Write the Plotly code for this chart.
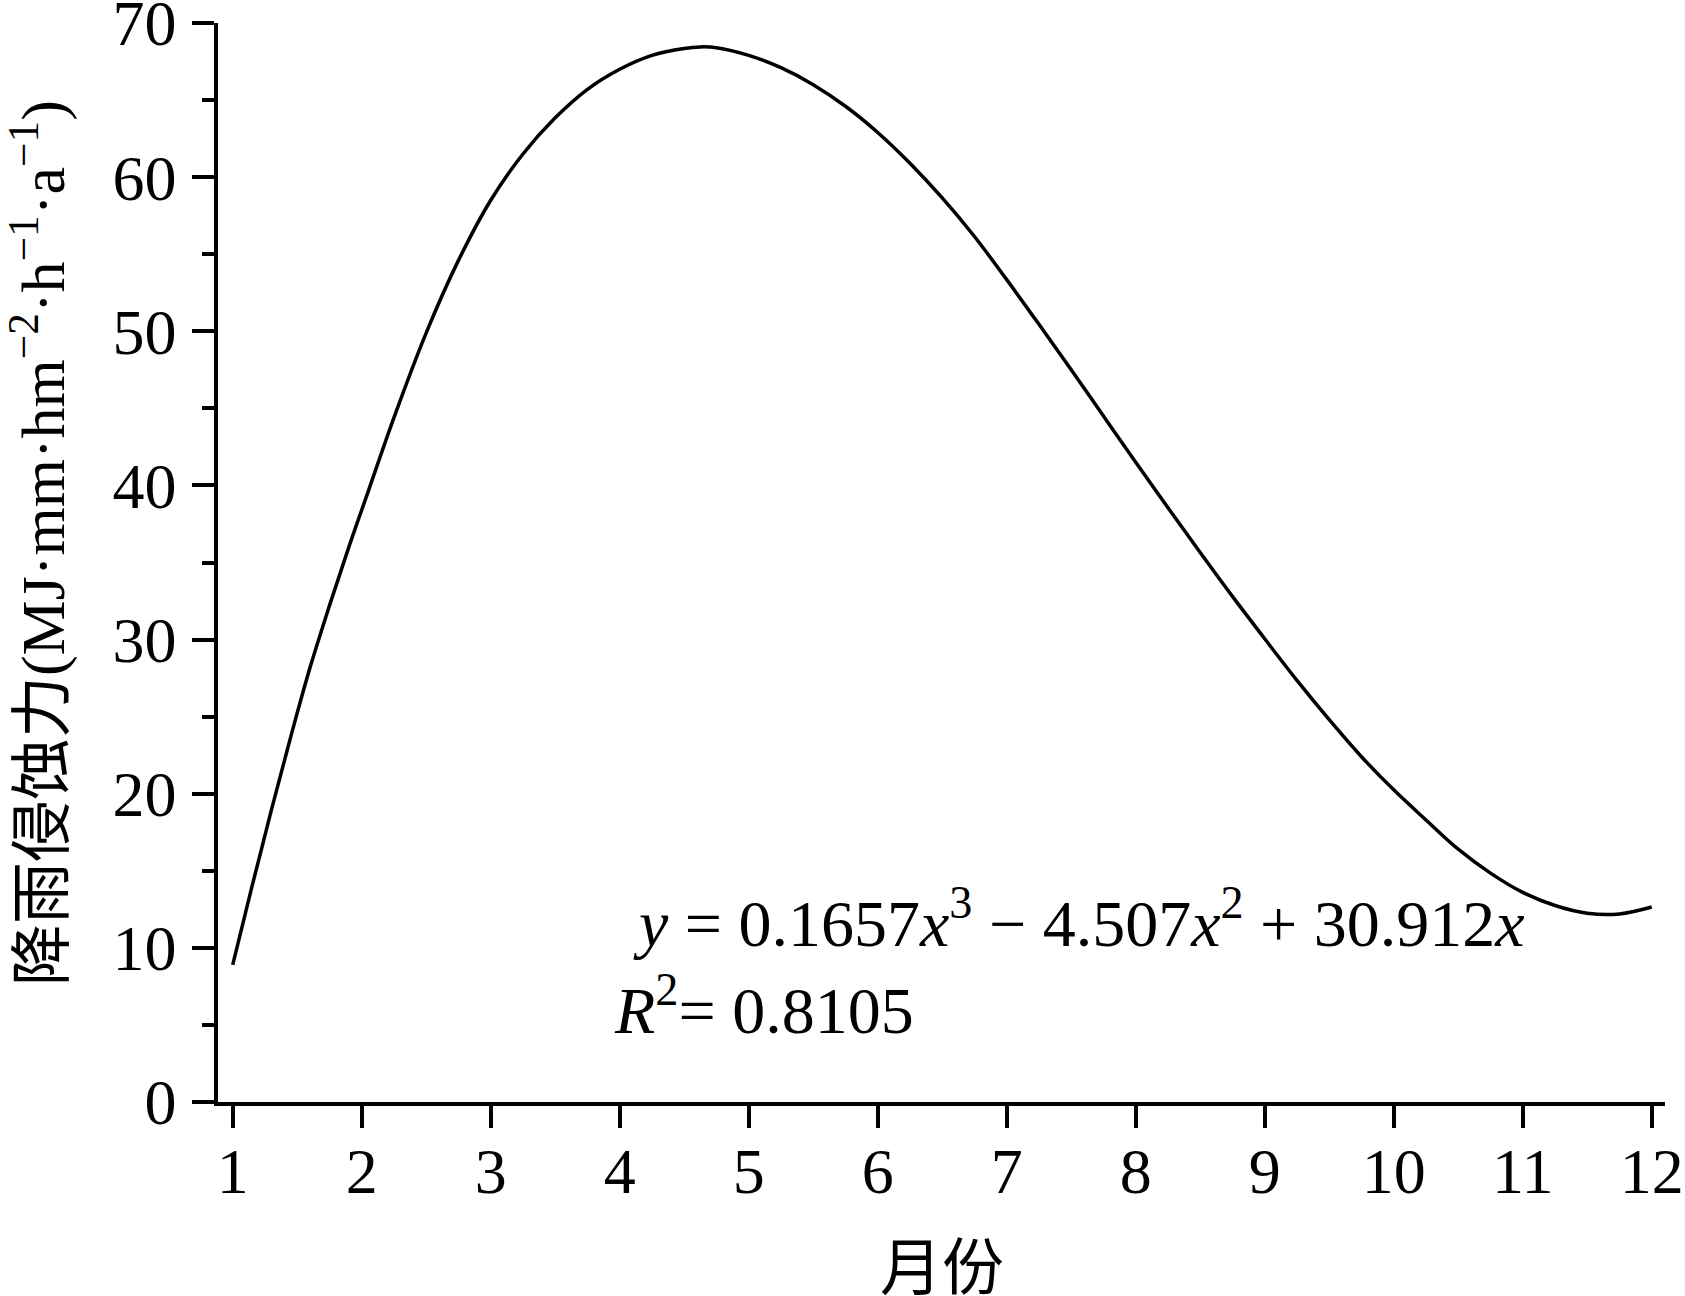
import plotly.graph_objects as go

# Month values (x) and rainfall erosivity (y)
month = [1.0, 1.15, 1.3, 1.45, 1.6, 1.75, 1.9, 2.05, 2.25, 2.5, 2.75, 3.0, 3.25, 3.5,
         3.75, 4.0, 4.25, 4.5, 4.625, 4.75, 5.0, 5.25, 5.5, 5.75, 6.0, 6.25, 6.5, 6.75,
         7.0, 7.25, 7.5, 7.75, 8.0, 8.25, 8.5, 8.75, 9.0, 9.25, 9.5, 9.75, 10.0, 10.25,
         10.5, 10.75, 11.0, 11.25, 11.5, 11.75, 12.0]
erosivity = [8.9, 14.0, 18.95, 23.7, 28.2, 32.2, 36.0, 39.6, 44.4, 49.9, 54.6, 58.5, 61.5, 63.85,
             65.7, 67.0, 67.9, 68.35, 68.45, 68.4, 67.9, 67.1, 66.0, 64.6, 62.9, 60.9, 58.65, 56.15,
             53.35, 50.45, 47.5, 44.5, 41.5, 38.55, 35.65, 32.8, 30.05, 27.35, 24.8, 22.4, 20.25, 18.3,
             16.4, 14.85, 13.6, 12.75, 12.25, 12.2, 12.65]

x_ticks = [1, 2, 3, 4, 5, 6, 7, 8, 9, 10, 11, 12]
y_ticks = [0, 10, 20, 30, 40, 50, 60, 70]

eq_text = "<i>y</i> = 0.1657<i>x</i><sup>3</sup> − 4.507<i>x</i><sup>2</sup> + 30.912<i>x</i>"
r2_text = "<i>R</i><sup>2</sup>= 0.8105"
x_title = "月份"
y_title = "降雨侵蚀力(MJ·mm·hm<sup>−2</sup>·h<sup>−1</sup>·a<sup>−1</sup>)"

FONT = "Liberation Serif, Noto Sans CJK SC"

fig = go.Figure()
fig.add_trace(go.Scatter(x=month, y=erosivity, mode="lines",
                         line=dict(color="black", width=3.5, shape="spline", smoothing=1.0),
                         showlegend=False, hoverinfo="skip"))

axis_common = dict(showgrid=False, zeroline=False, showline=True, linecolor="black",
                   linewidth=3.5, ticks="outside", tickcolor="black", tickwidth=3.5,
                   ticklen=22, ticklabeloverflow="allow",
                   tickfont=dict(family=FONT, size=64, color="black"))

fig.update_xaxes(range=[0.886, 12.103], tickmode="array", tickvals=x_ticks,
                 ticktext=[str(v) for v in x_ticks], ticklabelstandoff=-12, **axis_common)
fig.update_yaxes(range=[0, 70], tickmode="array", tickvals=y_ticks,
                 ticktext=[str(v) for v in y_ticks], ticklabelstandoff=3,
                 minor=dict(dtick=5, ticks="outside", ticklen=12, tickwidth=3.5,
                            tickcolor="black"),
                 **axis_common)

fig.add_annotation(text=eq_text, xref="paper", yref="paper", x=0.2855, y=0.170,
                   xanchor="left", yanchor="middle", showarrow=False,
                   font=dict(family=FONT, size=66, color="black"))
fig.add_annotation(text=r2_text, xref="paper", yref="paper", x=0.2725, y=0.089,
                   xanchor="left", yanchor="middle", showarrow=False,
                   font=dict(family=FONT, size=66, color="black"))
fig.add_annotation(text=x_title, xref="paper", yref="paper", x=0.5, y=-0.155,
                   xanchor="center", yanchor="middle", showarrow=False,
                   font=dict(family=FONT, size=62, color="black"))
fig.add_annotation(text=y_title, xref="paper", yref="paper", x=-0.1244, y=0.518,
                   xanchor="center", yanchor="middle", showarrow=False, textangle=-90,
                   font=dict(family=FONT, size=62, color="black"))

fig.update_layout(width=1685, height=1296, paper_bgcolor="white", plot_bgcolor="white",
                  margin=dict(l=218, r=20, t=23, b=194, autoexpand=False))

fig.write_html("out.html", config={"displayModeBar": False},
               post_script="document.body.style.margin='0';")
